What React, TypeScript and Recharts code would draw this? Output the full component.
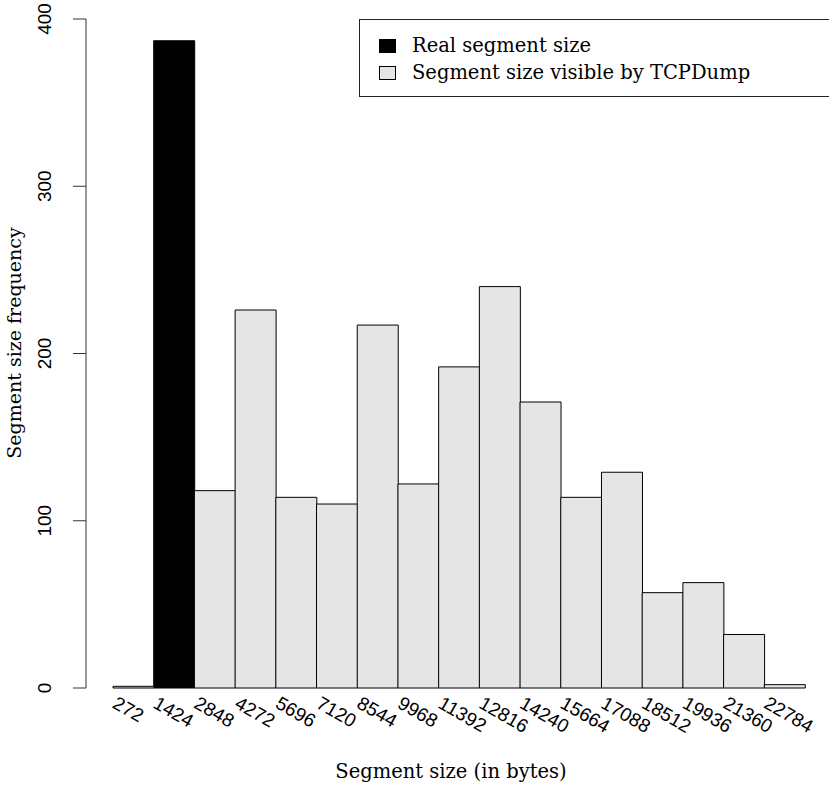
import { Bar, BarChart, Label, XAxis, YAxis } from "recharts";

const sizes = [
  "272", "1424", "2848", "4272", "5696", "7120", "8544", "9968", "11392",
  "12816", "14240", "15664", "17088", "18512", "19936", "21360", "22784",
];
const realCounts = [0, 387, 0, 0, 0, 0, 0, 0, 0, 0, 0, 0, 0, 0, 0, 0, 0];
const dumpCounts = [
  1, 0, 118, 226, 114, 110, 217, 122, 192, 240, 171, 114, 129, 57, 63, 32, 2,
];
const yTicks = [0, 100, 200, 300, 400];

const data = sizes.map((s, i) => ({
  size: s,
  real: realCounts[i],
  dump: dumpCounts[i],
}));

const SERIF = '"DejaVu Serif", serif';
const SANS = '"Liberation Sans", Arial, sans-serif';

type TickProps = {
  x?: number;
  y?: number;
  payload?: { value: string | number };
};

function XTick({ x = 0, payload }: TickProps) {
  // label starts at the bar's left edge and runs down-right
  const tx = x - 22;
  const ty = 707;
  return (
    <text
      x={tx}
      y={ty}
      transform={`rotate(30, ${tx}, ${ty})`}
      textAnchor="start"
      fontFamily={SANS}
      fontSize={19}
      fill="#000"
    >
      {payload?.value}
    </text>
  );
}

function YTick({ y = 0, payload }: TickProps) {
  const tx = 51;
  return (
    <text
      x={tx}
      y={y}
      transform={`rotate(-90, ${tx}, ${y})`}
      textAnchor="middle"
      fontFamily={SANS}
      fontSize={19}
      fill="#000"
    >
      {payload?.value}
    </text>
  );
}

function LegendBox() {
  const items = [
    { label: "Real segment size", color: "#000000" },
    { label: "Segment size visible by TCPDump", color: "#e5e5e5" },
  ];
  return (
    <div
      style={{
        position: "absolute",
        left: 359,
        top: 19,
        width: 480,
        height: 78,
        border: "1px solid #222",
        background: "#fff",
        boxSizing: "border-box",
      }}
    >
      {items.map((it, i) => (
        <div
          key={it.label}
          style={{
            position: "absolute",
            left: 19,
            top: 12 + i * 27,
            display: "flex",
            alignItems: "center",
            fontFamily: SERIF,
            fontSize: 19.5,
            lineHeight: "28px",
            whiteSpace: "nowrap",
          }}
        >
          <span
            style={{
              display: "inline-block",
              width: 15,
              height: 12,
              background: it.color,
              border: "1px solid #000",
              marginRight: 16,
            }}
          />
          {it.label}
        </div>
      ))}
    </div>
  );
}

export default function App() {
  return (
    <div
      style={{
        position: "absolute",
        left: 0,
        top: 0,
        width: 829,
        height: 788,
        background: "#fff",
      }}
    >
      <BarChart
        width={829}
        height={788}
        data={data}
        margin={{ top: 19, right: 24, bottom: 0, left: 0 }}
        barCategoryGap={0}
        barGap={0}
      >
        <XAxis
          dataKey="size"
          height={100}
          axisLine={false}
          tickLine={false}
          interval={0}
          padding={{ left: 27, right: 0 }}
          tick={<XTick />}
        >
          <Label
            content={() => (
              <text
                x={451}
                y={778}
                textAnchor="middle"
                fontFamily={SERIF}
                fontSize={19.5}
                fill="#000"
              >
                Segment size (in bytes)
              </text>
            )}
          />
        </XAxis>
        <YAxis
          width={86}
          domain={[0, 400]}
          ticks={yTicks}
          tickSize={13}
          stroke="#333"
          axisLine={{ stroke: "#333" }}
          tickLine={{ stroke: "#333" }}
          tick={<YTick />}
        >
          <Label
            content={() => (
              <text
                x={21}
                y={343}
                transform="rotate(-90, 21, 343)"
                textAnchor="middle"
                fontFamily={SERIF}
                fontSize={19}
                fill="#000"
              >
                Segment size frequency
              </text>
            )}
          />
        </YAxis>
        <Bar
          dataKey="real"
          stackId="a"
          fill="#000000"
          stroke="#000"
          strokeWidth={1}
          isAnimationActive={false}
        />
        <Bar
          dataKey="dump"
          stackId="a"
          fill="#e5e5e5"
          stroke="#000"
          strokeWidth={1}
          isAnimationActive={false}
        />
      </BarChart>
      <LegendBox />
    </div>
  );
}
